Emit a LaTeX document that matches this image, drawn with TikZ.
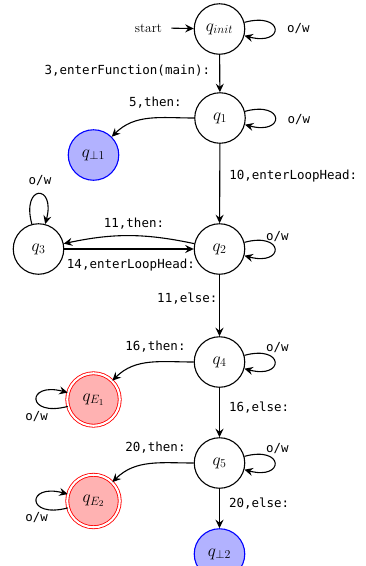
\documentclass[tikz,border=0pt]{standalone}
\usepackage{fontspec}
\newfontfamily\lblfamily{DejaVu Sans Mono}
\usetikzlibrary{arrows.meta}

\tikzset{
  st/.style={circle, draw, line width=1.1pt, minimum size=50.5pt, inner sep=0pt,
             font=\fontsize{18}{20}\selectfont},
  sinkst/.style={st, draw=blue, fill=blue!30},
  errst/.style={st, draw=red, fill=red!30, line width=0.85pt, double=white,
                double distance=2.1pt, minimum size=52.5pt},
  lbl/.style={inner sep=0pt, font=\lblfamily\fontsize{12.5}{14}\selectfont},
  trans/.style={->, line width=1.1pt},
  >={Stealth[length=8.5pt, width=8pt, inset=3pt]},
}

\begin{document}
\begin{tikzpicture}[x=1pt, y=1pt]
  \useasboundingbox (0,0) rectangle (365,-566);

  % states
  \node[st] (qi) at (219.5,-29) {$q_{init}$};
  \node[st] (q1) at (220,-118) {$q_1$};
  \node[sinkst] (qb1) at (93.5,-155) {$q_{\bot 1}$};
  \node[st] (q3) at (38.5,-249) {$q_3$};
  \node[st] (q2) at (219.5,-249) {$q_2$};
  \node[st] (q4) at (219.5,-362) {$q_4$};
  \node[errst] (qE1) at (93.5,-399.5) {$q_{E_1}$};
  \node[st] (q5) at (219.5,-463) {$q_5$};
  \node[errst] (qE2) at (93.5,-501) {$q_{E_2}$};
  \node[sinkst] (qb2) at (219.5,-554) {$q_{\bot 2}$};

  % initial marker
  \node[font=\fontsize{13.5}{15}\selectfont, inner sep=0pt] (start) at (148.5,-28) {start};
  \draw[trans, shorten <=9pt] (start.east) -- (qi);

  % main chain
  \draw[trans] (qi) -- node[lbl, pos=0.41, anchor=east, xshift=-9pt] {3,enterFunction(main):} (q1);
  \draw[trans] (q1) -- node[lbl, pos=0.405, anchor=west, xshift=9pt] {10,enterLoopHead:} (q2);
  \draw[trans] (q2) -- node[lbl, pos=0.39, anchor=east, xshift=-1.5pt] {11,else:} (q4);
  \draw[trans] (q4) -- node[lbl, pos=0.41, anchor=west, xshift=9pt] {16,else:} (q5);
  \draw[trans] (q5) -- node[lbl, pos=0.385, anchor=west, xshift=9pt] {20,else:} (qb2);

  % branches to the left
  \draw[trans] (q1) to[out=180, in=45] node[lbl, pos=0.5, xshift=6pt, yshift=16pt] {5,then:} (qb1);
  \draw[trans] (q4) to[out=180, in=45] node[lbl, pos=0.5, xshift=6pt, yshift=16pt] {16,then:} (qE1);
  \draw[trans] (q5) to[out=180, in=45] node[lbl, pos=0.5, xshift=6pt, yshift=16pt] {20,then:} (qE2);

  % loop head
  \draw[trans] (q2) to[bend right=12] node[lbl, pos=0.5, xshift=5pt, yshift=12pt] {11,then:} (q3);
  \draw[trans] (q3) -- node[lbl, pos=0.515, yshift=-16pt] {14,enterLoopHead:} (q2);

  % self loops
  \draw[trans] (qi) to[loop right] node[lbl, pos=0.5, xshift=12pt] {o/w} (qi);
  \draw[trans] (q1) to[loop right] node[lbl, pos=0.5, xshift=12pt, yshift=-2pt] {o/w} (q1);
  \draw[trans] (q2) to[loop right] node[lbl, pos=0.5, xshift=-9pt, yshift=12pt] {o/w} (q2);
  \draw[trans] (q4) to[loop right] node[lbl, pos=0.5, xshift=-9pt, yshift=14pt] {o/w} (q4);
  \draw[trans] (q5) to[loop right] node[lbl, pos=0.5, xshift=-9pt, yshift=14pt] {o/w} (q5);
  \draw[trans] (q3) to[loop above] node[lbl, pos=0.5, xshift=1.5pt, yshift=8pt] {o/w} (q3);
  \draw[trans] (qE1) to[loop left] node[lbl, pos=0.5, xshift=12pt, yshift=-17pt] {o/w} (qE1);
  \draw[trans] (qE2) to[loop left] node[lbl, pos=0.5, xshift=12pt, yshift=-17pt] {o/w} (qE2);
\end{tikzpicture}
\end{document}
